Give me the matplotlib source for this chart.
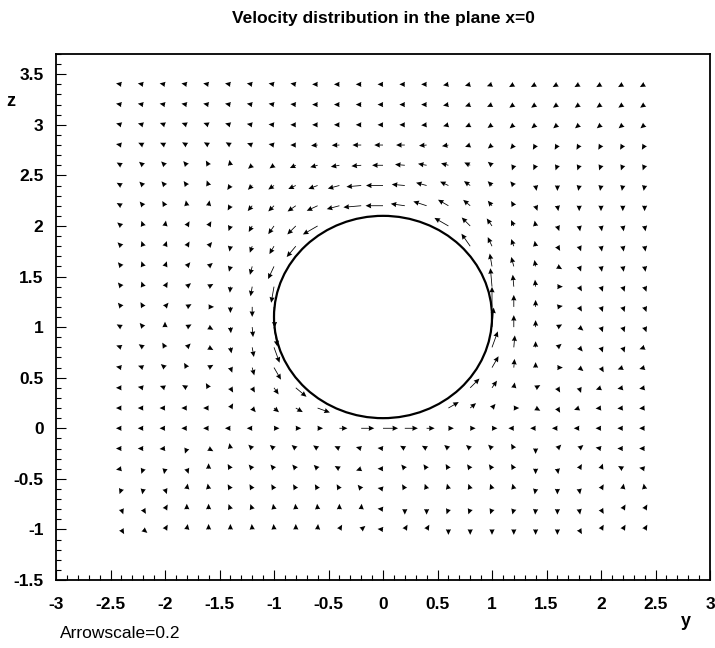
import numpy as np
import matplotlib.pyplot as plt
from matplotlib.patches import Circle
from matplotlib.ticker import MultipleLocator, FuncFormatter

plt.rcParams['font.family'] = ['Liberation Sans', 'DejaVu Sans']
plt.rcParams['axes.unicode_minus'] = False

# grid of the arrows
y_grid = [-2.4, -2.2, -2.0, -1.8, -1.6, -1.4, -1.2, -1.0, -0.8, -0.6, -0.4, -0.2, 0.0,
          0.2, 0.4, 0.6, 0.8, 1.0, 1.2, 1.4, 1.6, 1.8, 2.0, 2.2, 2.4]
z_grid = [3.4, 3.2, 3.0, 2.8, 2.6, 2.4, 2.2, 2.0, 1.8, 1.6, 1.4, 1.2, 1.0, 0.8, 0.6,
          0.4, 0.2, 0.0, -0.2, -0.4, -0.6, -0.8, -1.0]
nan = np.nan

# arrow direction in degrees (one row per z, top to bottom), nan = inside the body
angle = [
    [170,170,170,170,170,170,170,170,170,180,180,180,180,180,180,190,195,200,210,210,210,210,210,210,210],
    [170,170,170,170,170,170,170,170,175,180,180,180,180,180,180,190,200,205,215,215,215,215,215,215,215],
    [165,165,160,160,160,165,170,175,180,180,180,180,180,180,185,195,205,215,220,220,220,220,220,220,220],
    [170,155,155,150,150,150,160,170,180,185,182,180,180,180,185,190,200,220,230,240,240,240,240,240,240],
    [150,140,135,130,120,100,220,215,205,195,190,185,180,175,170,165,155,140,250,245,250,250,250,250,250],
    [150,135,130,125,110,235,225,215,205,200,195,185,180,175,165,155,145,135,130,280,270,260,260,260,260],
    [150,130,120,100,80,240,230,225,215,205,195,185,180,172,162,150,140,130,120,290,280,270,270,270,270],
    [140,110,80,60,60,250,240,235,225,210,nan,nan,nan,nan,nan,150,135,125,115,100,290,280,280,280,280],
    [135,110,70,60,50,260,250,240,230,nan,nan,nan,nan,nan,nan,nan,125,115,110,100,300,290,280,280,280],
    [130,110,70,50,40,255,255,245,nan,nan,nan,nan,nan,nan,nan,nan,nan,100,105,100,330,290,280,280,280],
    [130,110,60,40,30,265,260,260,nan,nan,nan,nan,nan,nan,nan,nan,nan,95,95,95,0,300,290,290,290],
    [130,120,50,30,0,270,270,272,nan,nan,nan,nan,nan,nan,nan,nan,nan,90,90,90,10,300,290,290,290],
    [150,130,90,30,330,275,275,280,nan,nan,nan,nan,nan,nan,nan,nan,nan,85,90,90,30,320,290,290,290],
    [160,145,120,45,330,280,280,290,nan,nan,nan,nan,nan,nan,nan,nan,nan,70,85,90,40,310,290,290,200],
    [170,160,140,120,30,290,285,300,nan,nan,nan,nan,nan,nan,nan,nan,nan,60,85,90,0,320,300,200,195],
    [180,170,160,150,120,300,300,305,320,nan,nan,nan,nan,nan,nan,nan,45,55,80,30,300,290,200,190,190],
    [180,180,180,180,180,60,310,320,330,340,nan,nan,nan,nan,nan,30,40,50,0,330,300,200,185,185,185],
    [180,180,180,180,180,180,180,0,0,0,0,0,0,0,0,0,0,0,180,180,180,180,180,180,180],
    [180,180,185,250,330,100,135,140,140,145,155,165,175,150,150,140,140,135,120,270,45,40,170,180,180],
    [190,250,260,290,90,120,130,130,130,135,150,200,180,130,125,120,125,125,120,270,280,60,70,150,170],
    [250,260,290,80,100,120,120,120,120,120,120,130,170,120,110,105,110,110,105,260,270,280,60,80,100],
    [290,300,60,90,90,110,110,100,95,95,90,85,175,270,270,250,250,250,255,265,270,280,300,60,60],
    [300,320,60,80,90,90,95,95,90,85,60,40,175,60,60,270,270,270,270,270,270,300,60,60,60],
]

# speed at each point
speed = [
    [0.25]*25,
    [0.25]*25,
    [0.25]*25,
    [0.25,0.25,0.25,0.25,0.25,0.25,0.25,0.25,0.25,0.3,0.35,0.4,0.4,0.4,0.35,0.3,0.25,0.25,0.25,0.25,0.25,0.25,0.25,0.25,0.25],
    [0.25,0.25,0.25,0.25,0.25,0.25,0.25,0.25,0.3,0.35,0.4,0.45,0.5,0.45,0.4,0.35,0.3,0.25,0.25,0.25,0.25,0.25,0.25,0.25,0.25],
    [0.25,0.25,0.25,0.25,0.25,0.25,0.28,0.32,0.38,0.45,0.55,0.68,0.78,0.6,0.5,0.42,0.35,0.28,0.25,0.25,0.25,0.25,0.25,0.25,0.25],
    [0.25,0.25,0.25,0.25,0.25,0.25,0.32,0.37,0.46,0.55,0.6,0.82,0.8,0.65,0.64,0.55,0.42,0.3,0.25,0.25,0.25,0.25,0.25,0.25,0.25],
    [0.25,0.25,0.25,0.25,0.25,0.25,0.32,0.46,0.55,0.78,nan,nan,nan,nan,nan,0.74,0.55,0.42,0.3,0.25,0.25,0.25,0.25,0.25,0.25],
    [0.25,0.25,0.25,0.25,0.25,0.25,0.32,0.42,0.65,nan,nan,nan,nan,nan,nan,nan,0.7,0.46,0.35,0.25,0.25,0.25,0.25,0.25,0.25],
    [0.25,0.25,0.25,0.25,0.25,0.25,0.4,0.64,nan,nan,nan,nan,nan,nan,nan,nan,nan,0.6,0.45,0.3,0.25,0.25,0.25,0.25,0.25],
    [0.25,0.25,0.25,0.25,0.25,0.28,0.45,0.75,nan,nan,nan,nan,nan,nan,nan,nan,nan,0.85,0.55,0.32,0.25,0.25,0.25,0.25,0.25],
    [0.25,0.25,0.25,0.25,0.25,0.28,0.46,0.95,nan,nan,nan,nan,nan,nan,nan,nan,nan,0.92,0.55,0.32,0.25,0.25,0.25,0.25,0.25],
    [0.25,0.25,0.25,0.25,0.25,0.28,0.46,0.9,nan,nan,nan,nan,nan,nan,nan,nan,nan,0.9,0.55,0.32,0.25,0.25,0.25,0.25,0.25],
    [0.25,0.25,0.25,0.25,0.25,0.28,0.45,0.75,nan,nan,nan,nan,nan,nan,nan,nan,nan,0.78,0.55,0.28,0.25,0.25,0.25,0.25,0.25],
    [0.25,0.25,0.25,0.25,0.25,0.25,0.37,0.64,nan,nan,nan,nan,nan,nan,nan,nan,nan,0.6,0.4,0.25,0.25,0.25,0.25,0.25,0.25],
    [0.25,0.25,0.25,0.25,0.25,0.25,0.25,0.37,0.64,nan,nan,nan,nan,nan,nan,nan,0.6,0.4,0.25,0.25,0.25,0.25,0.25,0.25,0.25],
    [0.25,0.25,0.25,0.25,0.25,0.25,0.25,0.3,0.37,0.6,nan,nan,nan,nan,nan,0.55,0.35,0.25,0.25,0.25,0.25,0.25,0.25,0.25,0.25],
    [0.25,0.25,0.25,0.25,0.25,0.25,0.25,0.25,0.25,0.25,0.37,0.6,0.69,0.6,0.37,0.25,0.25,0.25,0.25,0.25,0.25,0.25,0.25,0.25,0.25],
    [0.25]*25,
    [0.25]*25,
    [0.25]*25,
    [0.25]*25,
    [0.25]*25,
]

arrowscale = 0.2
body_center = (0.0, 1.1)
body_radius = 1.0

Y, Z = np.meshgrid(y_grid, z_grid)
A = np.radians(np.array(angle, dtype=float))
S = np.array(speed, dtype=float)
ok = np.isfinite(A) & np.isfinite(S)
U = arrowscale * S * np.cos(A)
V = arrowscale * S * np.sin(A)

fig = plt.figure(figsize=(7.15, 6.48), dpi=100)
ax = fig.add_axes([56/715, 1-580/648, 654/715, 526/648])

ax.quiver(Y[ok], Z[ok], U[ok], V[ok], angles='uv', scale_units='x', scale=1,
          units='dots', width=0.8, headwidth=6.5, headlength=7, headaxislength=6.5,
          minshaft=0, minlength=0, color='black')

ax.add_patch(Circle(body_center, body_radius, fill=False, lw=1.6, color='black'))

ax.set_xlim(-3, 3)
ax.set_ylim(-1.5, 3.7)
ax.xaxis.set_major_locator(MultipleLocator(0.5))
ax.xaxis.set_minor_locator(MultipleLocator(0.1))
ax.yaxis.set_major_locator(MultipleLocator(0.5))
ax.yaxis.set_minor_locator(MultipleLocator(0.1))
fmt = FuncFormatter(lambda v, p: '%g' % v)
ax.xaxis.set_major_formatter(fmt)
ax.yaxis.set_major_formatter(fmt)
ax.tick_params(which='both', direction='in', top=False, right=False, width=0.8)
ax.tick_params(which='major', length=7)
ax.tick_params(which='minor', length=3.5)
ax.tick_params(axis='x', pad=12)
ax.tick_params(axis='y', pad=9)
for lab in ax.get_xticklabels() + ax.get_yticklabels():
    lab.set_fontweight('bold')
    lab.set_fontsize(12.5)
for s in ax.spines.values():
    s.set_linewidth(1.3)

fig.text(383/715, 1-18/648, 'Velocity distribution in the plane x=0',
         ha='center', va='center', fontsize=12.5, fontweight='bold')
fig.text(11/715, 1-102/648, 'z', ha='center', va='center', fontsize=13, fontweight='bold')
fig.text(686/715, 1-622/648, 'y', ha='center', va='center', fontsize=13, fontweight='bold')
fig.text(60/715, 1-634/648, 'Arrowscale=0.2', ha='left', va='center', fontsize=12.5)

fig.savefig('out.png', dpi=100)
